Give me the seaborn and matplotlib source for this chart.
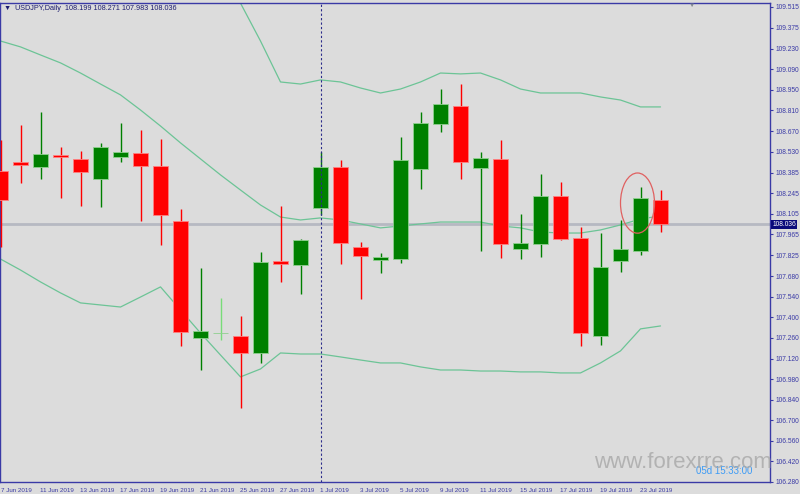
import matplotlib
matplotlib.use('Agg')
import matplotlib.pyplot as plt
import matplotlib.transforms as mtransforms
from matplotlib.patches import Ellipse
import seaborn as sns
import pandas as pd

# Daily USDJPY candles
dates = ['7 Jun', '10 Jun', '11 Jun', '12 Jun', '13 Jun', '14 Jun', '17 Jun', '18 Jun',
         '19 Jun', '20 Jun', '21 Jun', '24 Jun', '25 Jun', '26 Jun', '27 Jun', '28 Jun',
         '1 Jul', '2 Jul', '3 Jul', '4 Jul', '5 Jul', '8 Jul', '9 Jul', '10 Jul',
         '11 Jul', '12 Jul', '15 Jul', '16 Jul', '17 Jul', '18 Jul', '19 Jul', '22 Jul',
         '23 Jul', '24 Jul']
opens = [108.398, 108.459, 108.425, 108.507, 108.480, 108.343, 108.493, 108.520,
         108.432, 108.057, 107.260, 107.292, 107.274, 107.158, 107.785, 107.758,
         108.146, 108.425, 107.880, 107.792, 107.798, 108.411, 108.718, 108.841,
         108.418, 108.480, 107.866, 107.901, 108.228, 107.941, 107.274, 107.785,
         107.853, 108.199]
highs = [108.609, 108.711, 108.800, 108.561, 108.534, 108.589, 108.725, 108.677,
         108.616, 108.139, 107.737, 107.533, 107.410, 107.846, 108.159, 107.935,
         108.527, 108.473, 107.914, 107.839, 108.629, 108.800, 108.956, 108.990,
         108.527, 108.609, 108.105, 108.377, 108.323, 108.016, 107.975, 108.064,
         108.289, 108.271]
lows = [107.880, 108.316, 108.343, 108.214, 108.159, 108.153, 108.459, 108.057,
        107.894, 107.206, 107.042, 107.247, 106.783, 107.090, 107.642, 107.560,
        108.098, 107.764, 107.526, 107.703, 107.771, 108.275, 108.664, 108.343,
        107.853, 107.805, 107.798, 107.812, 107.928, 107.206, 107.213, 107.710,
        107.826, 107.983]
closes = [108.200, 108.439, 108.514, 108.493, 108.391, 108.561, 108.527, 108.432,
          108.098, 107.301, 107.308, 107.296, 107.158, 107.778, 107.764, 107.928,
          108.425, 107.907, 107.819, 107.812, 108.473, 108.725, 108.854, 108.459,
          108.486, 107.901, 107.907, 108.228, 107.935, 107.294, 107.744, 107.866,
          108.214, 108.036]

# Bollinger bands
bb_upper = [110.768, 110.763, 110.734, 110.701, 110.631, 110.495, 110.361, 110.087,
            109.800, 109.727, 109.666, 109.598, 109.541, 109.283, 109.004, 108.990,
            109.018, 109.004, 108.963, 108.929, 108.956, 109.004, 109.065, 109.059,
            109.065, 109.018, 108.956, 108.929, 108.929, 108.929, 108.902, 108.881,
            108.834, 108.834]
bb_mid = [109.283, 109.243, 109.188, 109.134, 109.065, 108.990, 108.916, 108.813,
          108.704, 108.589, 108.480, 108.371, 108.268, 108.166, 108.084, 108.064,
          108.078, 108.064, 108.037, 108.010, 108.023, 108.037, 108.050, 108.050,
          108.050, 108.023, 108.010, 107.982, 107.975, 107.975, 107.996, 108.030,
          108.071, 108.091]
bb_lower = [107.798, 107.723, 107.642, 107.567, 107.499, 107.485, 107.471, 107.539,
            107.608, 107.451, 107.294, 107.144, 106.995, 107.049, 107.158, 107.151,
            107.151, 107.131, 107.110, 107.090, 107.090, 107.063, 107.042, 107.042,
            107.035, 107.035, 107.029, 107.029, 107.022, 107.022, 107.090, 107.172,
            107.322, 107.342]

price_ticks = [109.515, 109.375, 109.230, 109.090, 108.950, 108.810, 108.670, 108.530,
               108.385, 108.245, 108.105, 107.965, 107.825, 107.680, 107.540, 107.400,
               107.260, 107.120, 106.980, 106.840, 106.700, 106.560, 106.420, 106.280]
date_ticks = ['7 Jun', '11 Jun', '13 Jun', '17 Jun', '19 Jun', '21 Jun', '25 Jun', '27 Jun',
              '1 Jul', '3 Jul', '5 Jul', '9 Jul', '11 Jul', '15 Jul', '17 Jul', '19 Jul', '23 Jul']
last_price = 108.036

df = pd.DataFrame({'date': dates, 'open': opens, 'high': highs, 'low': lows,
                   'close': closes, 'upper': bb_upper, 'mid': bb_mid, 'lower': bb_lower})
df['i'] = range(len(df))

sns.set_style('white')
plt.rcParams['font.family'] = ['Liberation Sans', 'DejaVu Sans']

bg = '#dcdcdc'
navy = '#3a3aa6'
fig = plt.figure(figsize=(8, 4.94), dpi=100, facecolor=bg)
ax = fig.add_axes([0, 12 / 494, 770 / 800, 479.3 / 494])
ax.set_facecolor(bg)

# current price line behind everything
ax.axhline(last_price, color='#b6b9c2', lw=2, zorder=1)

# bollinger bands
for col in ['upper', 'mid', 'lower']:
    sns.lineplot(data=df, x='i', y=col, ax=ax, color='#6cc496', lw=0.9, legend=False, zorder=2)

# candles
for _, r in df.iterrows():
    up = r['close'] >= r['open']
    c = '#008000' if up else '#ff0000'
    if abs(r['close'] - r['open']) < 0.006:
        c = '#78dc78'
    ax.vlines(r['i'], r['low'], r['high'], color=c, lw=1, zorder=3)
    lo = min(r['open'], r['close'])
    h = max(abs(r['close'] - r['open']), 0.004)
    ax.bar(r['i'], h, bottom=lo, width=0.76, color=c,
           edgecolor='#8fd08f' if up else '#ff8080', linewidth=0.6, zorder=4)

# period separator
sep = dates.index('1 Jul')
ax.axvline(sep, color='#2a2a8a', lw=0.8, ls=(0, (2, 2)), zorder=5)

# marked candle
k = dates.index('23 Jul')
ax.add_patch(Ellipse((k - 0.15, highs[k] - 0.11), width=1.7, height=0.41,
                     fill=False, edgecolor='#e06060', lw=0.9, zorder=6))

ax.set_xlim(-0.025, 38.475)
ax.set_ylim(106.279, 109.544)

ax.set_xticks([dates.index(d) for d in date_ticks])
ax.set_xticklabels([d + ' 2019' for d in date_ticks], ha='left', fontsize=4.5, color=navy)
ax.yaxis.tick_right()
ax.set_yticks(price_ticks)
ax.set_yticklabels(['%.3f' % p for p in price_ticks], fontsize=4.8, color=navy)
ax.tick_params(axis='x', direction='out', length=3, width=0.8, color=navy, pad=1)
ax.tick_params(axis='y', direction='out', length=2.5, width=0.8, color=navy, pad=1.5)
ax.set_xlabel('')
ax.set_ylabel('')
for s in ax.spines.values():
    s.set_color(navy)
    s.set_linewidth(1)
    s.set_visible(True)

# last price tag
tr = mtransforms.blended_transform_factory(ax.transAxes, ax.transData)
ax.text(1.003, last_price, '%.3f' % last_price, transform=tr, fontsize=4.8, color='white',
        va='center', ha='left', zorder=10,
        bbox=dict(boxstyle='square,pad=0.15', facecolor='#0a0a7a', edgecolor='none'))

# title
ax.text(0.005, 0.995, '\u25bc  USDJPY,Daily  108.199 108.271 107.983 108.036', transform=ax.transAxes,
        fontsize=5.2, color='#1c1c70', va='top', ha='left')
ax.text(692 / 770, 1.0, '\u25bc', transform=ax.transAxes, fontsize=4.5, color='#7d8590',
        va='top', ha='center')

# countdown and watermark
fig.text(724 / 800, 1 - 471 / 494, '05d 15:33:00', fontsize=7, color='#3d9bf5',
         ha='center', va='center')
fig.text(683 / 800, 1 - 462 / 494, 'www.forexrre.com', fontsize=16, color='#a8a8a8',
         alpha=0.8, ha='center', va='center')

fig.savefig('out.png', dpi=100, facecolor=bg)
